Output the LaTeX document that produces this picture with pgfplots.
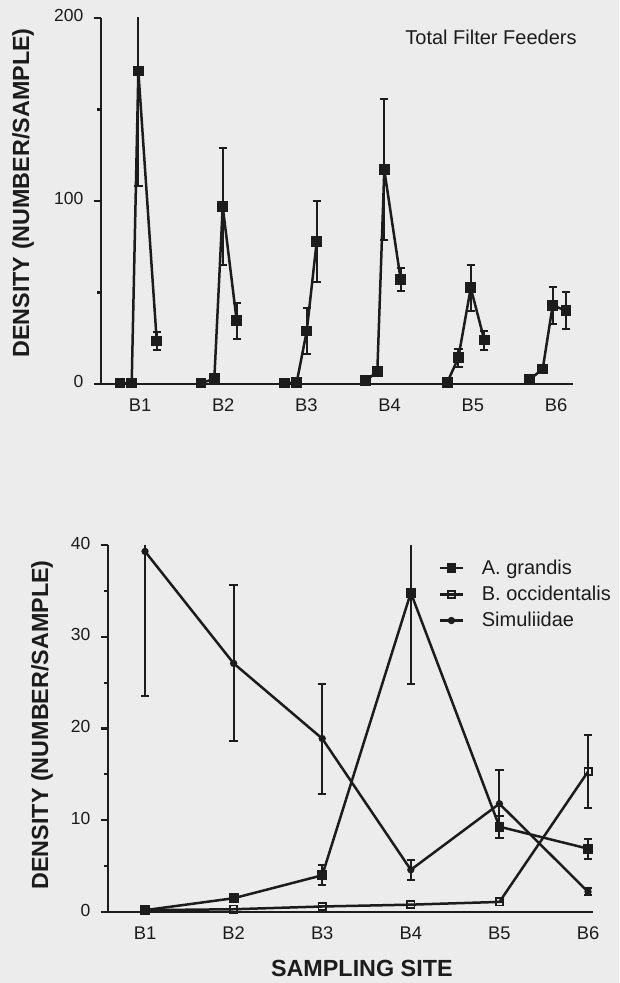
\documentclass[border=0pt]{standalone}
\usepackage{pgfplots}
\pgfplotsset{compat=1.18}
\usepackage{fontspec}
\setmainfont{Liberation Sans}
\definecolor{paper}{RGB}{236,236,236}
\definecolor{ink}{RGB}{28,28,28}

\pgfplotstableread{
x      y     e
0.760  0.5   0
0.900  0.5   0
0.980  171   63
1.201  23.5  5
nan    nan   nan
1.733  0.5   0
1.893  2.8   0
1.994  97    32
2.162  34.5  10
nan    nan   nan
2.734  0.5   0
2.883  0.8   0
3.004  29    12.5
3.124  78    22
nan    nan   nan
3.708  1.8   0
3.852  6.6   0
3.936  117   38.5
4.133  57    6.2
nan    nan   nan
4.693  0.9   0
4.826  14.3  5
4.975  52.5  12.5
5.138  24    5.2
nan    nan   nan
5.679  2.3   0
5.840  8.2   0
5.960  43    10
6.120  40    10
}\totalff

\pgfplotstableread{
x y e
1 0.2 0
2 1.5 0.3
3 4.0 1.1
4 34.8 9.9
5 9.3 1.2
6 6.9 1.1
}\agrandis

\pgfplotstableread{
x y e
1 0.2 0
2 0.3 0
3 0.6 0
4 0.8 0
5 1.1 0
6 15.3 4.0
}\boccid

\pgfplotstableread{
x y e
1 39.3 15.8
2 27.1 8.5
3 18.9 6.0
4 4.6 1.1
5 11.8 3.7
6 2.2 0.4
}\simul

\begin{document}
\begin{tikzpicture}[x=0.6pt,y=0.6pt]
\fill[paper] (0,0) rectangle (619,983);
\useasboundingbox (0,0) rectangle (619,983);
\coordinate (TopSW) at (101,599);
\coordinate (BotSW) at (108,71);

\pgfplotsset{
  panel/.style={
    scale only axis,
    axis lines*=left,
    axis line style={-, line width=1.3pt, draw=ink},
    xtick={1,2,3,4,5,6}, xticklabels={B1,B2,B3,B4,B5,B6},
    xtick style={draw=none},
    tick align=outside,
    ytick style={line width=1.3pt, draw=ink},
    major tick length=4.5pt, minor tick length=2.2pt,
    yticklabel style={font=\fontsize{10.5}{12}\selectfont, text=ink, xshift=-2.5pt},
    xticklabel style={font=\fontsize{11}{12}\selectfont, text=ink},
    typeset ticklabels with strut,
    /pgf/number format/assume math mode=true,
    clip=true,
    every axis y label/.style={rotate=90, anchor=center, font=\bfseries\fontsize{14}{16}\selectfont, text=ink},
  },
  ebar/.style={error bars/.cd, y dir=both, y explicit,
    error bar style={line width=1.2pt, ink},
    error mark options={rotate=90, mark size=2.5pt, line width=1.2pt, ink}},
}

% ---------- upper panel ----------
\begin{axis}[panel,
  at={(TopSW)}, anchor=south west,
  width=283.2pt, height=219.6pt,
  xmin=0.531, xmax=6.204, ymin=0, ymax=200,
  ytick={0,100,200}, minor ytick={50,150},
  unbounded coords=jump,
  ylabel={DENSITY (NUMBER/SAMPLE)},
  ylabel style={at={(axis description cs:-0.165,0.522)}},
]
\addplot[ink, line width=1.5pt, mark=square*, mark size=2.5pt, ebar]
  table[x=x, y=y, y error=e] {\totalff};
\end{axis}

\node[font=\fontsize{12}{14}\selectfont, text=ink] at (491,946) {Total Filter Feeders};

% ---------- lower panel ----------
\begin{axis}[panel,
  at={(BotSW)}, anchor=south west,
  width=291.2pt, height=220.2pt,
  xmin=0.582, xmax=6.06, ymin=0, ymax=40,
  ytick={0,10,20,30,40}, minor ytick={5,15,25,35},
  ylabel={DENSITY (NUMBER/SAMPLE)},
  ylabel style={at={(axis description cs:-0.136,0.51)}},
  xlabel={SAMPLING SITE},
  xlabel style={at={(axis description cs:0.523,-0.155)}, anchor=center, font=\bfseries\fontsize{14}{16}\selectfont, text=ink},
  legend style={at={(rel axis cs:0.67,0.979)}, anchor=north west, draw=none, fill=none,
    font=\fontsize{12}{14}\selectfont, text=ink, row sep=1.5pt,
    nodes={inner xsep=7pt},
    /tikz/every odd column/.append style={column sep=3.5pt}},
  legend cell align=left,
  legend image code/.code={\draw[mark repeat=2,mark phase=2,#1] plot coordinates {(0pt,0pt) (7pt,0pt) (14pt,0pt)};},
]
\addplot[ink, line width=1.5pt, mark=square*, mark size=2.2pt, ebar]
  table[x=x, y=y, y error=e] {\agrandis};
\addlegendentry{A. grandis}
\addplot[ink, line width=1.5pt, mark=square, mark size=2.2pt, mark options={fill=white, line width=1pt}, ebar]
  table[x=x, y=y, y error=e] {\boccid};
\addlegendentry{B. occidentalis}
\addplot[ink, line width=1.5pt, mark=*, mark size=1.4pt, ebar]
  table[x=x, y=y, y error=e] {\simul};
\addlegendentry{Simuliidae}
\end{axis}
\end{tikzpicture}
\end{document}
